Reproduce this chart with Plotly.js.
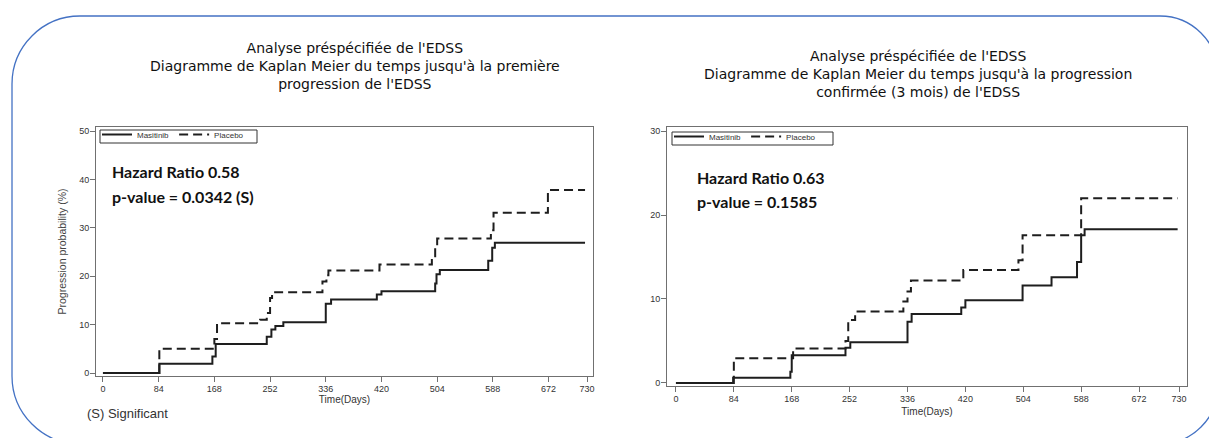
<!DOCTYPE html>
<html>
<head>
<meta charset="utf-8">
<script src="https://cdn.plot.ly/plotly-3.0.1.min.js"></script>
<style>html,body{margin:0;padding:0;background:#fff;}#chart{width:1209px;height:438px;}</style>
</head>
<body>
<div id="chart"></div>
<script>
// ---- Data ----
const xTicks = [0, 84, 168, 252, 336, 420, 504, 588, 672, 730];

// Left panel: first EDSS progression (%)
const leftMasitinibDays = [0, 85, 165, 170, 247, 254, 260, 272, 336, 344, 413, 420, 501, 503, 508, 581, 587, 591, 727];
const leftMasitinibProb = [0, 1.9, 3.4, 6.0, 7.5, 9.0, 9.7, 10.5, 14.3, 15.2, 16.2, 16.9, 18.5, 20.4, 21.3, 23.2, 25.9, 26.9, 26.9];
const leftPlaceboDays = [0, 85, 168, 172, 237, 247, 252, 255, 331, 337, 340, 417, 496, 501, 504, 585, 589, 671, 727];
const leftPlaceboProb = [0, 5.0, 7.0, 10.3, 11.0, 12.4, 15.5, 16.7, 18.9, 20.2, 21.2, 22.4, 23.7, 25.8, 27.8, 29.5, 33.1, 37.8, 37.8];
const leftYTicks = [0, 10, 20, 30, 40, 50];

// Right panel: confirmed (3 months) EDSS progression (%)
const rightMasitinibDays = [0, 83, 166, 168, 246, 253, 336, 342, 414, 420, 503, 545, 582, 588, 593, 728];
const rightMasitinibProb = [0, 0.63, 1.35, 3.3, 4.2, 4.84, 7.3, 8.2, 9.0, 9.84, 11.6, 12.6, 14.4, 17.6, 18.3, 18.3];
const rightPlaceboDays = [0, 84, 170, 246, 250, 260, 330, 336, 341, 417, 497, 503, 588, 728];
const rightPlaceboProb = [0, 2.94, 4.1, 5.0, 7.5, 8.5, 9.7, 10.9, 12.2, 13.45, 14.6, 17.6, 22.0, 22.0];
const rightYTicks = [0, 10, 20, 30];

const seriesNames = ['Masitinib', 'Placebo'];
const leftTitle = "Analyse préspécifiée de l'EDSS<br>Diagramme de Kaplan Meier du temps jusqu'à la première<br>progression de l'EDSS";
const rightTitle = "Analyse préspécifiée de l'EDSS<br>Diagramme de Kaplan Meier du temps jusqu'à la progression<br>confirmée (3 mois) de l'EDSS";
const leftStats = ['Hazard Ratio 0.58', 'p-value = 0.0342 (S)'];
const rightStats = ['Hazard Ratio 0.63', 'p-value = 0.1585'];
const footnote = '(S) Significant';
const xTitle = 'Time(Days)';
const yTitle = 'Progression probability (%)';

// ---- Layout helpers (pixel -> paper) ----
const W = 1209, H = 438;
const px = v => v / W;
const py = v => 1 - v / H;

const lineColor = '#1e1e1e';
const solid = {color: lineColor, width: 2, shape: 'hv'};
const dashed = {color: lineColor, width: 2, shape: 'hv', dash: '9px,5px'};

const traces = [
  {x: leftMasitinibDays, y: leftMasitinibProb, name: seriesNames[0], mode: 'lines', line: solid, xaxis: 'x', yaxis: 'y', legend: 'legend', hoverinfo: 'skip'},
  {x: leftPlaceboDays, y: leftPlaceboProb, name: seriesNames[1], mode: 'lines', line: dashed, xaxis: 'x', yaxis: 'y', legend: 'legend', hoverinfo: 'skip'},
  {x: rightMasitinibDays, y: rightMasitinibProb, name: seriesNames[0], mode: 'lines', line: solid, xaxis: 'x2', yaxis: 'y2', legend: 'legend2', hoverinfo: 'skip'},
  {x: rightPlaceboDays, y: rightPlaceboProb, name: seriesNames[1], mode: 'lines', line: dashed, xaxis: 'x2', yaxis: 'y2', legend: 'legend2', hoverinfo: 'skip'}
];

const tickFont = {family: 'Liberation Sans, Arial, sans-serif', size: 9, color: '#333'};
const axisCommon = {
  showgrid: false, zeroline: false, showline: true, mirror: true,
  linecolor: '#707070', linewidth: 1, ticks: 'outside', ticklen: 5,
  tickcolor: '#707070', tickfont: tickFont, fixedrange: true, ticklabelstandoff: -1
};

const legendCommon = {
  orientation: 'h', xanchor: 'left', yanchor: 'top',
  bgcolor: 'rgba(0,0,0,0)', borderwidth: 0,
  font: {family: 'Liberation Sans, Arial, sans-serif', size: 8, color: '#333'},
  itemwidth: 30, tracegroupgap: 0, indentation: 0
};

const statFont = {family: 'Lato, Open Sans, sans-serif', size: 16, color: '#111', weight: 700};
const titleFont = {family: 'DejaVu Sans, Verdana, sans-serif', size: 14, color: '#111'};

// rounded border path (pixel coords converted to paper)
const L = 12, R = 1218, T = 16, B = 444, rl = 68, rr = 58, k = 0.5523;
function P(x, y) { return px(x).toFixed(5) + ',' + py(y).toFixed(5); }
const borderPath =
  'M' + P(L + rl, T) + ' L' + P(R - rr, T) +
  ' C' + P(R - rr + rr * k, T) + ' ' + P(R, T + rr - rr * k) + ' ' + P(R, T + rr) +
  ' L' + P(R, B - rr) +
  ' C' + P(R, B - rr + rr * k) + ' ' + P(R - rr + rr * k, B) + ' ' + P(R - rr, B) +
  ' L' + P(L + rl, B) +
  ' C' + P(L + rl - rl * k, B) + ' ' + P(L, B - rl + rl * k) + ' ' + P(L, B - rl) +
  ' L' + P(L, T + rl) +
  ' C' + P(L, T + rl - rl * k) + ' ' + P(L + rl - rl * k, T) + ' ' + P(L + rl, T) + ' Z';

const axisTitleFont = {family: 'Liberation Sans, Arial, sans-serif', size: 10, color: '#333'};

const layout = {
  width: W, height: H,
  margin: {l: 0, r: 0, t: 0, b: 0},
  paper_bgcolor: '#fff', plot_bgcolor: '#fff',
  showlegend: true,
  xaxis: Object.assign({}, axisCommon, {
    domain: [px(96), px(593)], range: [-10.5, 739], tickvals: xTicks, anchor: 'y',
    title: {text: xTitle, font: axisTitleFont, standoff: 0}
  }),
  yaxis: Object.assign({}, axisCommon, {
    domain: [py(376), py(127)], range: [-0.62, 50.83], tickvals: leftYTicks, anchor: 'x',
    title: {text: yTitle, font: {family: 'Liberation Sans, Arial, sans-serif', size: 10.5, color: '#444'}, standoff: 10}
  }),
  xaxis2: Object.assign({}, axisCommon, {
    domain: [px(667), px(1187)], range: [-13, 741.6], tickvals: xTicks, anchor: 'y2',
    title: {text: xTitle, font: axisTitleFont, standoff: 5}
  }),
  yaxis2: Object.assign({}, axisCommon, {
    domain: [py(386), py(127)], range: [-0.36, 30.48], tickvals: rightYTicks, anchor: 'x2'
  }),
  legend: Object.assign({}, legendCommon, {x: px(97), y: py(120)}),
  legend2: Object.assign({}, legendCommon, {x: px(669), y: py(122)}),
  annotations: [
    {text: leftTitle, x: px(355), y: py(66), xref: 'paper', yref: 'paper', showarrow: false, font: titleFont, align: 'center', xanchor: 'center', yanchor: 'middle'},
    {text: rightTitle, x: px(918), y: py(74), xref: 'paper', yref: 'paper', showarrow: false, font: titleFont, align: 'center', xanchor: 'center', yanchor: 'middle'},
    {text: leftStats[0], x: px(110), y: py(171), xref: 'paper', yref: 'paper', showarrow: false, font: statFont, xanchor: 'left', yanchor: 'middle'},
    {text: leftStats[1], x: px(110), y: py(197), xref: 'paper', yref: 'paper', showarrow: false, font: statFont, xanchor: 'left', yanchor: 'middle'},
    {text: rightStats[0], x: px(695), y: py(177), xref: 'paper', yref: 'paper', showarrow: false, font: statFont, xanchor: 'left', yanchor: 'middle'},
    {text: rightStats[1], x: px(695), y: py(202), xref: 'paper', yref: 'paper', showarrow: false, font: statFont, xanchor: 'left', yanchor: 'middle'},
    {text: footnote, x: px(85), y: py(413), xref: 'paper', yref: 'paper', showarrow: false, font: {family: 'Liberation Sans, Arial, sans-serif', size: 13, color: '#333'}, xanchor: 'left', yanchor: 'middle'}
  ],
  shapes: [
    {type: 'path', xref: 'paper', yref: 'paper', path: borderPath, line: {color: '#4472C4', width: 1.3}, fillcolor: 'rgba(0,0,0,0)', layer: 'below'},
    // legend frames
    {type: 'rect', xref: 'paper', yref: 'paper', x0: px(100), x1: px(257), y0: py(143), y1: py(130), line: {color: '#333', width: 1}, fillcolor: 'rgba(0,0,0,0)', layer: 'above'},
    {type: 'rect', xref: 'paper', yref: 'paper', x0: px(672), x1: px(833), y0: py(145), y1: py(132), line: {color: '#333', width: 1}, fillcolor: 'rgba(0,0,0,0)', layer: 'above'}
  ]
};

Plotly.newPlot('chart', traces, layout, {displayModeBar: false, staticPlot: true});
</script>
</body>
</html>
